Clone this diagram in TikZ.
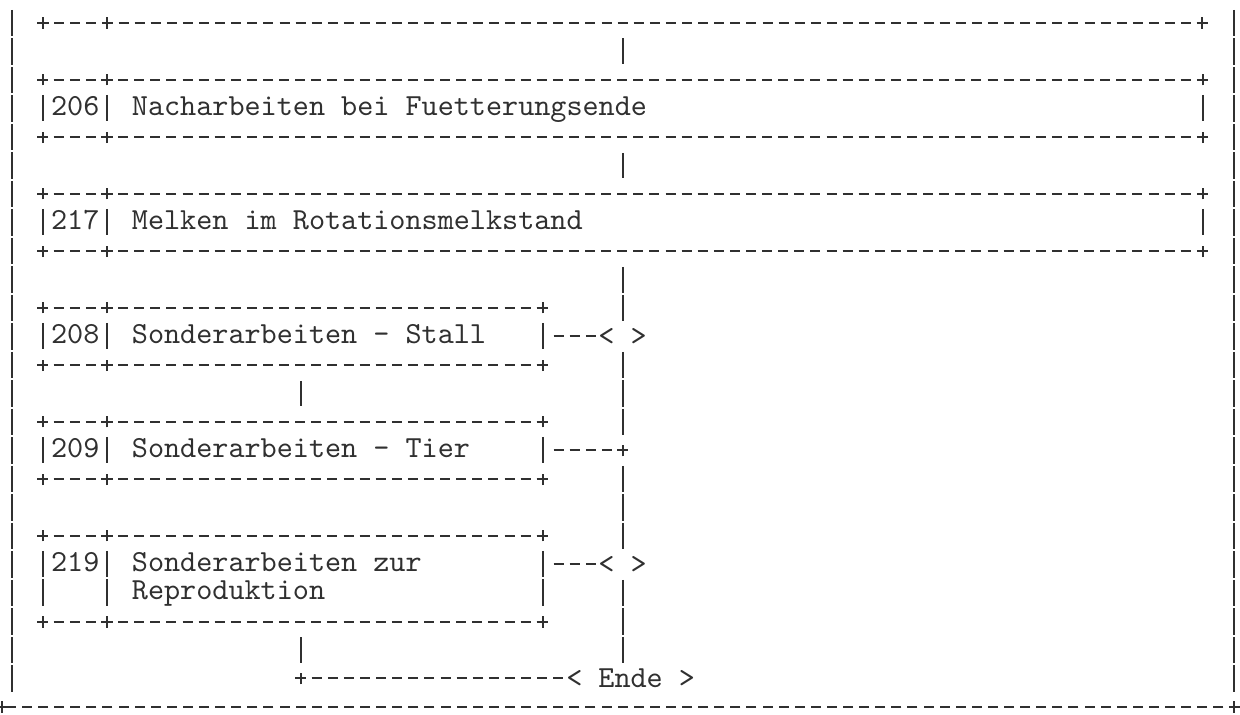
\documentclass[tikz,border=0pt]{standalone}
\usepackage{fontspec}
\newfontfamily\asciifont{lmmono10-regular}[Extension=.otf]
\definecolor{ink}{HTML}{303030}

\tikzset{
  dline/.style={ink,line width=1pt,dash pattern=on 5pt off 3.05pt,dash phase=2.5pt},
  hconn/.style={ink,line width=1pt,dash pattern=on 5pt off 3.05pt,shorten <=5.55pt},
  vbar/.style={ink,line width=1pt,dash pattern=on 13.11pt off 1.14pt},
  vline/.style={vbar,shorten <=7.7pt,shorten >=7.7pt},
  txt/.style={font={\asciifont\fontsize{15.33}{14.25}\selectfont},text=ink,inner sep=0pt},
  boxarea/.style={inner sep=0pt,minimum height=28.5pt},
  wbox/.style={minimum width=579.6pt},
  sbox/.style={minimum width=249.55pt},
  crossmark/.pic={\draw[ink,line width=1pt] (-2.8pt,0)--(2.8pt,0) (0,-2.9pt)--(0,2.9pt);},
}

% ramecek bloku: carkovane hrany, svisle strany, kriz v rozich
\newcommand{\asciibox}[1]{%
  \draw[dline] (#1.north west) -- (#1.north east);
  \draw[dline] (#1.south west) -- (#1.south east);
  \draw[vline] (#1.north west) -- (#1.south west);
  \draw[vline] ([xshift=32.2pt]#1.north west) -- ([xshift=32.2pt]#1.south west);
  \draw[vline] (#1.north east) -- (#1.south east);
  \foreach \a in {north west,north east,south west,south east} {\pic at (#1.\a) {crossmark};}
  \pic at ([xshift=32.2pt]#1.north west) {crossmark};
  \pic at ([xshift=32.2pt]#1.south west) {crossmark};
}

\begin{document}
\begin{tikzpicture}[x=8.05pt,y=-14.25pt]
  \useasboundingbox (-2.671,-0.807) rectangle (74.348,24.246);
  % ramecek stranky
  \coordinate (lt) at (-1.95,-0.46); \coordinate (lb) at (-1.95,23.46);
  \coordinate (rt) at (74,-0.46); \coordinate (rb) at (74,23.46);
  \coordinate (bl) at (-2.55,24); \coordinate (br) at (74,24);
  \draw[vbar] (lt) -- (lb); \draw[vbar] (rt) -- (rb);
  \draw[dline] (br) -- (bl);
  \pic at (bl) {crossmark}; \pic at (br) {crossmark};
  % konec predchoziho bloku
  \coordinate (pl) at (0,0); \coordinate (prev) at (36,0); \coordinate (pr) at (72,0);
  \draw[dline] (pl) -- (pr);
  \foreach \c in {0,4,72} {\pic at (\c,0) {crossmark};}
  % bloky
  \foreach \n/\y in {206/3,217/7} {\node[boxarea,wbox] (b\n) at (36,\y) {};}
  \foreach \n/\y/\h in {208/11/28.5pt,209/15/28.5pt,219/19.5/42.75pt} {\node[boxarea,sbox,minimum height=\h] (b\n) at (15.5,\y) {};}
  \foreach \n in {206,217,208,209,219} {\asciibox{b\n}}
  % cisla a texty
  \foreach \n/\y in {206/3,217/7,208/11,209/15,219/19} {\node[txt,anchor=base] (n\n) at (2,\y+0.24) {\n};}
  \node[txt,anchor=base west] (t206) at (5.5,3.24) {Nacharbeiten bei Fuetterungsende};
  \node[txt,anchor=base west] (t217) at (5.5,7.24) {Melken im Rotationsmelkstand};
  \node[txt,anchor=base west] (t208) at (5.5,11.24) {Sonderarbeiten - Stall};
  \node[txt,anchor=base west] (t209) at (5.5,15.24) {Sonderarbeiten - Tier};
  \node[txt,anchor=base west,align=left] (t219) at (5.5,20.24) {Sonderarbeiten zur\\Reproduktion};
  % rozhodovani a konec
  \node[txt] (d208) at (36,11) {<~>};
  \node[txt] (d219) at (36,19) {<~>};
  \node[txt] (ende) at (36.5,23) {<~Ende~>};
  \coordinate (j209) at (36,15); \coordinate (jend) at (16,23);
  \pic at (j209) {crossmark}; \pic at (jend) {crossmark};
  % hlavni svisla cara
  \draw[vline] (prev) -- (b206.north);
  \draw[vline] (b206.south) -- (b217.north);
  \draw[vline] (b217.south) -- (d208.center);
  \draw[vline] (d208.center) -- (j209);
  \draw[vline] (j209) -- (d219.center);
  \draw[vline] (d219.center) -- (d219.center |- ende.center);
  % leva vetev
  \draw[vline] (b208.south -| jend) -- (b209.north -| jend);
  \draw[vline] (b219.south -| jend) -- (jend);
  % vodorovne spojnice
  \draw[hconn] (b208.east) -- (d208.west);
  \draw[hconn] (b209.east) -- (j209);
  \draw[hconn] (d219.center -| b219.east) -- (d219.west);
  \draw[hconn] (jend) -- (ende.west);
\end{tikzpicture}
\end{document}
